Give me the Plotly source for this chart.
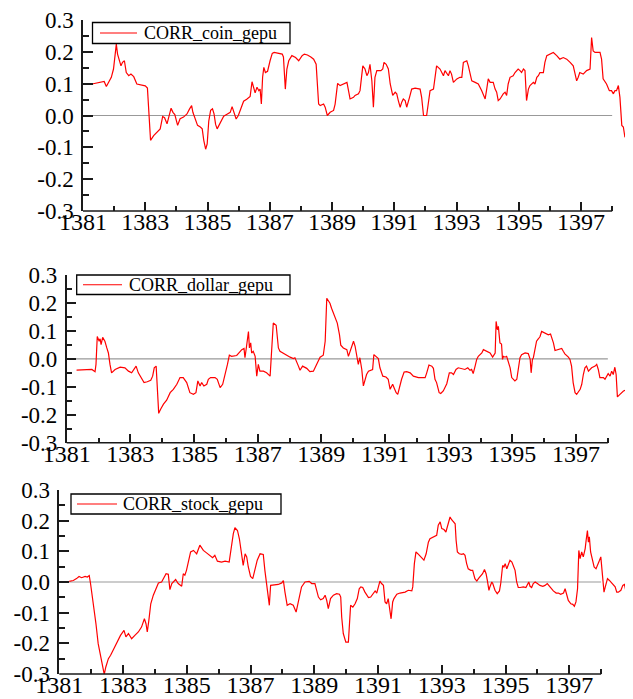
import plotly.graph_objects as go

# ---------------- data ----------------
SERIES_NAMES = ["CORR_coin_gepu", "CORR_dollar_gepu", "CORR_stock_gepu"]

COIN_YEAR = [1381.29,1381.56,1381.68,1381.75,1381.82,1381.91,1381.98,1382.04,1382.07,1382.11,1382.17,1382.22,1382.27,1382.33,1382.39,1382.47,1382.54,1382.63,1382.73,1382.86,1383.00,1383.07,1383.12,1383.17,1383.27,1383.38,1383.48,1383.56,1383.62,1383.70,1383.77,1383.83,1383.89,1383.95,1384.04,1384.12,1384.23,1384.34,1384.42,1384.49,1384.53,1384.61,1384.68,1384.77,1384.83,1384.88,1384.94,1384.99,1385.04,1385.10,1385.16,1385.21,1385.26,1385.31,1385.41,1385.52,1385.64,1385.73,1385.79,1385.85,1385.92,1385.99,1386.07,1386.16,1386.26,1386.37,1386.43,1386.48,1386.53,1386.59,1386.65,1386.69,1386.73,1386.77,1386.81,1386.86,1386.93,1387.01,1387.08,1387.14,1387.25,1387.40,1387.44,1387.50,1387.55,1387.61,1387.71,1387.83,1387.93,1388.04,1388.11,1388.21,1388.32,1388.41,1388.49,1388.57,1388.62,1388.73,1388.78,1388.85,1388.94,1389.05,1389.10,1389.18,1389.26,1389.37,1389.48,1389.53,1389.58,1389.69,1389.74,1389.85,1389.90,1389.99,1390.06,1390.12,1390.17,1390.22,1390.28,1390.33,1390.38,1390.44,1390.57,1390.63,1390.67,1390.74,1390.81,1390.87,1390.95,1391.03,1391.08,1391.13,1391.19,1391.24,1391.29,1391.35,1391.40,1391.49,1391.56,1391.67,1391.83,1391.88,1391.94,1392.04,1392.10,1392.15,1392.26,1392.31,1392.36,1392.47,1392.52,1392.58,1392.63,1392.68,1392.74,1392.79,1392.84,1392.90,1393.01,1393.11,1393.17,1393.22,1393.33,1393.38,1393.49,1393.60,1393.70,1393.81,1393.92,1393.97,1394.02,1394.08,1394.18,1394.24,1394.29,1394.34,1394.40,1394.50,1394.56,1394.61,1394.66,1394.72,1394.82,1394.88,1394.98,1395.04,1395.09,1395.15,1395.20,1395.25,1395.31,1395.36,1395.47,1395.52,1395.58,1395.63,1395.68,1395.79,1395.84,1395.90,1396.00,1396.11,1396.22,1396.32,1396.43,1396.54,1396.65,1396.75,1396.80,1396.86,1396.91,1396.96,1397.07,1397.13,1397.18,1397.29,1397.34,1397.39,1397.45,1397.61,1397.66,1397.71,1397.82,1397.91,1397.98,1398.04,1398.09,1398.14,1398.20,1398.25,1398.31,1398.36,1398.41,1398.52,1398.62]
COIN_CORR = [0.099,0.104,0.107,0.091,0.104,0.120,0.146,0.188,0.224,0.193,0.172,0.156,0.167,0.172,0.135,0.125,0.130,0.122,0.099,0.096,0.093,0.086,0.016,-0.078,-0.063,-0.052,-0.042,-0.003,-0.007,-0.026,0.005,0.023,0.010,0.003,-0.031,-0.010,-0.005,0.005,0.020,0.031,0.010,-0.016,-0.031,-0.036,-0.042,-0.078,-0.106,-0.089,-0.018,0.016,0.021,0.005,-0.028,-0.042,-0.024,-0.002,0.005,0.010,0.028,0.007,-0.011,0.000,0.024,0.045,0.051,0.060,0.106,0.083,0.071,0.089,0.078,0.083,0.036,0.120,0.151,0.135,0.139,0.172,0.195,0.198,0.195,0.193,0.184,0.083,0.146,0.172,0.188,0.182,0.172,0.188,0.193,0.190,0.184,0.177,0.161,0.036,0.031,0.036,0.026,0.000,0.010,0.016,0.036,0.101,0.094,0.099,0.104,0.078,0.052,0.057,0.063,0.068,0.078,0.156,0.146,0.125,0.135,0.161,0.109,0.026,0.120,0.141,0.141,0.146,0.167,0.161,0.146,0.099,0.063,0.073,0.068,0.047,0.026,0.042,0.052,0.047,0.026,0.057,0.083,0.086,0.083,0.057,0.000,0.000,0.047,0.078,0.083,0.120,0.156,0.146,0.135,0.125,0.141,0.135,0.125,0.141,0.130,0.104,0.115,0.120,0.120,0.167,0.172,0.156,0.109,0.104,0.099,0.078,0.052,0.083,0.115,0.104,0.104,0.083,0.073,0.047,0.052,0.068,0.073,0.063,0.099,0.120,0.125,0.135,0.146,0.141,0.135,0.146,0.141,0.047,0.083,0.094,0.104,0.099,0.120,0.125,0.135,0.135,0.167,0.188,0.193,0.198,0.188,0.177,0.182,0.177,0.167,0.156,0.135,0.109,0.120,0.135,0.130,0.135,0.141,0.146,0.245,0.203,0.198,0.198,0.177,0.115,0.099,0.078,0.078,0.068,0.078,0.078,0.094,0.057,-0.031,-0.036,-0.068,-0.052,-0.036]

DOLLAR_YEAR = [1381.31,1381.63,1381.79,1381.89,1381.92,1381.96,1382.02,1382.05,1382.08,1382.13,1382.20,1382.26,1382.31,1382.36,1382.41,1382.52,1382.68,1382.83,1382.94,1383.04,1383.09,1383.18,1383.25,1383.36,1383.43,1383.53,1383.64,1383.70,1383.75,1383.81,1383.85,1383.89,1383.95,1384.04,1384.14,1384.25,1384.35,1384.46,1384.56,1384.66,1384.77,1384.87,1384.98,1385.06,1385.12,1385.19,1385.24,1385.31,1385.40,1385.45,1385.52,1385.66,1385.73,1385.82,1385.90,1385.97,1386.05,1386.11,1386.18,1386.34,1386.42,1386.50,1386.57,1386.60,1386.65,1386.71,1386.74,1386.78,1386.81,1386.86,1386.92,1386.97,1387.02,1387.07,1387.18,1387.28,1387.39,1387.44,1387.49,1387.58,1387.65,1387.70,1387.86,1388.02,1388.12,1388.17,1388.28,1388.33,1388.41,1388.54,1388.64,1388.75,1388.85,1388.91,
               1388.96,1389.06,1389.12,1389.17,1389.27,1389.32,1389.38,1389.46,1389.50,1389.57,1389.61,1389.69,1389.80,1389.85,1389.90,1389.95,1390.01,1390.06,1390.11,1390.16,1390.21,1390.27,1390.32,1390.37,1390.42,1390.48,1390.55,1390.61,1390.65,1390.72,1390.79,1390.84,1390.93,1391.03,1391.10,1391.16,1391.24,1391.29,1391.35,1391.40,1391.47,1391.52,1391.60,1391.68,1391.79,1391.89,1392.05,1392.26,1392.31,1392.38,1392.47,1392.52,1392.57,1392.62,1392.70,1392.75,1392.83,1392.94,1393.02,1393.09,1393.15,1393.23,1393.30,1393.41,1393.51,1393.60,1393.67,1393.72,1393.77,1393.83,1393.88,1393.93,1394.04,1394.09,1394.19,1394.30,1394.38,1394.46,1394.49,1394.53,1394.56,1394.61,1394.66,1394.69,1394.72,1394.77,1394.82,1394.87,1394.93,1394.98,1395.08,1395.14,1395.19,1395.24,1395.29,1395.40,1395.50,1395.56,1395.59,1395.63,1395.66,1395.71,1395.76,1395.82,1395.87,1395.92,1396.03,1396.13,1396.20,1396.29,1396.34,1396.45,1396.55,1396.60,1396.65,1396.76,1396.81,1396.86,1396.91,1396.97,1397.02,1397.13,1397.18,1397.23,1397.28,1397.33,1397.39,1397.49,1397.60,1397.65,1397.70,1397.75,1397.86,1397.91,1397.96,1398.01,1398.07,1398.12,1398.17,1398.22,1398.26,1398.30,1398.38,1398.49,1398.64,1398.75]
DOLLAR_CORR = [-0.040,-0.040,-0.038,-0.046,-0.020,0.080,0.063,0.072,0.051,0.077,0.063,0.039,0.021,-0.020,-0.050,-0.038,-0.030,-0.032,-0.044,-0.050,-0.041,-0.026,-0.050,-0.073,-0.085,-0.082,-0.077,-0.062,-0.032,-0.026,-0.127,-0.195,-0.180,-0.162,-0.148,-0.121,-0.109,-0.091,-0.067,-0.067,-0.085,-0.121,-0.127,-0.121,-0.079,-0.097,-0.085,-0.097,-0.091,-0.073,-0.067,-0.067,-0.073,-0.103,-0.091,-0.062,-0.020,0.013,0.009,0.012,0.021,0.033,0.037,0.004,0.045,0.098,0.039,0.057,0.021,0.027,0.009,-0.062,-0.020,-0.044,-0.044,-0.050,-0.062,0.033,0.128,0.120,0.039,0.027,0.015,0.006,0.001,0.004,-0.026,-0.041,-0.026,-0.034,-0.046,-0.044,-0.020,-0.002,
               0.006,0.013,0.063,0.217,0.199,0.181,0.163,0.134,0.128,0.086,0.049,0.039,0.033,0.009,0.027,0.045,0.063,0.045,0.015,-0.020,0.004,-0.038,-0.097,-0.073,-0.056,-0.044,-0.040,-0.038,0.015,0.009,0.001,-0.032,-0.062,-0.065,-0.073,-0.109,-0.091,-0.105,-0.121,-0.127,-0.091,-0.073,-0.047,-0.046,-0.050,-0.062,-0.067,-0.067,-0.050,-0.022,-0.026,-0.034,-0.073,-0.085,-0.121,-0.124,-0.115,-0.089,-0.050,-0.050,-0.056,-0.038,-0.032,-0.034,-0.038,-0.032,-0.041,-0.038,-0.053,-0.026,-0.002,0.009,0.021,0.033,0.027,0.021,0.006,0.021,0.134,0.104,0.116,0.057,0.053,-0.002,0.009,0.006,0.009,-0.008,-0.032,-0.067,-0.079,-0.073,-0.038,0.004,0.015,0.021,0.019,-0.002,-0.050,-0.002,0.004,0.033,0.063,0.072,0.080,0.098,0.092,0.086,0.089,0.057,0.030,0.033,0.037,0.027,0.018,0.006,-0.002,-0.026,-0.085,-0.121,-0.127,-0.109,-0.091,-0.056,-0.032,-0.026,-0.044,-0.032,-0.026,-0.020,-0.038,-0.067,-0.067,-0.073,-0.062,-0.053,-0.062,-0.044,-0.056,-0.030,-0.056,-0.136,-0.127,-0.115,-0.109,-0.091]

STOCK_YEAR = [1381.31,1381.44,1381.54,1381.62,1381.70,1381.81,1381.88,1381.94,1381.98,1382.07,1382.15,1382.22,1382.30,1382.36,1382.41,1382.46,1382.54,1382.61,1382.69,1382.80,1382.92,1383.03,1383.09,1383.17,1383.27,1383.37,1383.48,1383.58,1383.67,1383.72,1383.76,1383.81,1383.87,1383.95,1384.03,1384.11,1384.21,1384.29,1384.35,1384.42,1384.47,1384.53,1384.58,1384.65,1384.73,1384.84,1384.89,1384.94,1384.99,1385.05,1385.12,1385.21,1385.31,1385.41,1385.52,1385.62,1385.73,1385.81,1385.88,1385.96,1386.09,1386.20,1386.33,1386.39,1386.46,1386.51,1386.59,1386.65,1386.72,1386.77,1386.83,1386.88,1386.93,1387.00,1387.07,1387.14,1387.21,1387.30,1387.40,1387.45,1387.51,1387.56,1387.59,1387.63,1387.72,1387.87,1387.98,1388.03,1388.08,1388.15,1388.24,1388.34,1388.43,1388.50,1388.60,1388.71,1388.84,1388.92,
              1389.02,1389.13,1389.20,1389.28,1389.34,1389.39,1389.44,1389.51,1389.60,1389.70,1389.79,1389.83,1389.86,1389.91,1389.99,1390.07,1390.10,1390.14,1390.21,1390.28,1390.35,1390.41,1390.46,1390.52,1390.59,1390.64,1390.70,1390.77,1390.85,1390.91,1390.96,1391.01,1391.06,1391.11,1391.17,1391.22,1391.27,1391.32,1391.38,1391.41,1391.46,1391.50,1391.59,1391.69,1391.85,1391.95,1392.06,1392.09,1392.14,1392.19,1392.27,1392.37,1392.44,1392.51,1392.58,1392.63,1392.74,1392.84,1392.89,1392.95,1393.00,1393.07,1393.13,1393.19,1393.26,1393.31,1393.36,1393.42,1393.45,1393.49,1393.55,1393.63,1393.68,1393.73,1393.78,1393.83,1393.91,1393.97,1394.04,1394.10,1394.15,1394.22,1394.28,1394.34,1394.39,1394.43,1394.48,1394.51,1394.57,1394.60,1394.67,1394.74,1394.81,1394.85,1394.91,1394.95,1394.99,1395.04,1395.09,1395.14,1395.20,1395.25,1395.30,1395.35,1395.40,1395.46,1395.56,1395.64,1395.69,1395.73,1395.77,1395.82,1395.87,1395.93,1396.00,1396.08,1396.17,1396.24,1396.31,1396.40,1396.50,1396.59,1396.66,1396.73,1396.82,1396.87,1396.92,1396.97,1397.05,1397.11,1397.16,1397.21,1397.26,1397.30,1397.34,1397.39,1397.44,1397.50,1397.53,1397.57,1397.60,1397.63,1397.67,1397.73,1397.78,1397.84,1397.89,1397.95,1397.99,1398.02,1398.05,1398.09,1398.13,1398.20,1398.26,1398.33,1398.44,1398.49,1398.54,1398.62,1398.68,1398.73,1398.78,1398.83,1398.91,1398.96]
STOCK_CORR = [0.002,0.005,0.011,0.018,0.014,0.018,0.016,0.021,-0.005,-0.071,-0.136,-0.201,-0.245,-0.277,-0.301,-0.277,-0.250,-0.239,-0.223,-0.201,-0.174,-0.158,-0.179,-0.168,-0.185,-0.174,-0.163,-0.147,-0.120,-0.136,-0.163,-0.125,-0.071,-0.043,-0.022,-0.003,0.000,0.018,0.027,0.025,-0.025,-0.005,0.000,0.008,-0.005,-0.014,0.027,0.022,0.038,0.065,0.098,0.103,0.092,0.120,0.103,0.095,0.087,0.079,0.087,0.068,0.065,0.068,0.065,0.114,0.158,0.177,0.168,0.141,0.092,0.054,0.092,0.082,0.049,0.018,0.011,0.038,0.071,0.092,0.090,0.038,-0.011,-0.038,-0.076,-0.011,-0.009,-0.008,-0.003,0.005,-0.033,-0.076,-0.071,-0.076,-0.098,-0.065,-0.016,0.000,0.002,-0.005,
              -0.005,-0.049,-0.058,-0.054,-0.043,-0.060,-0.087,-0.054,-0.043,-0.038,-0.040,-0.049,-0.114,-0.168,-0.196,-0.196,-0.136,-0.076,-0.082,-0.071,-0.054,-0.022,-0.016,-0.018,-0.033,-0.043,-0.051,-0.049,-0.038,-0.029,-0.036,-0.011,0.003,-0.005,-0.011,-0.065,-0.071,-0.054,-0.092,-0.120,-0.065,-0.054,-0.040,-0.036,-0.033,-0.027,-0.029,-0.016,0.060,0.098,0.090,0.079,0.071,0.092,0.130,0.141,0.147,0.152,0.185,0.196,0.174,0.171,0.163,0.185,0.212,0.203,0.196,0.190,0.136,0.098,0.092,0.090,0.092,0.087,0.060,0.043,0.038,0.038,0.011,0.003,0.011,0.018,0.027,0.041,0.027,0.005,-0.027,-0.016,0.000,-0.005,-0.027,-0.038,-0.029,-0.005,0.054,0.049,0.060,0.043,0.060,0.071,0.065,0.049,0.038,0.000,-0.018,-0.018,-0.016,-0.018,-0.005,0.000,-0.014,-0.018,-0.005,0.000,-0.005,-0.011,-0.014,-0.011,-0.005,-0.016,-0.029,-0.036,-0.036,-0.040,-0.036,-0.022,-0.043,-0.060,-0.071,-0.073,-0.079,-0.065,-0.022,0.103,0.076,0.098,0.082,0.109,0.136,0.168,0.130,0.147,0.098,0.071,0.049,0.043,0.054,0.071,0.082,0.049,0.000,-0.033,-0.016,0.011,0.005,-0.003,-0.016,-0.033,-0.033,-0.027,-0.011,-0.008,-0.027,-0.054,-0.065,-0.068]

X_TICK_VALUES = [1381, 1383, 1385, 1387, 1389, 1391, 1393, 1395, 1397]
X_TICK_LABELS = ["1381", "1383", "1385", "1387", "1389", "1391", "1393", "1395", "1397"]
X_MINOR_VALUES = [1382, 1384, 1386, 1388, 1390, 1392, 1394, 1396, 1398]
Y_TICK_VALUES = [-0.3, -0.2, -0.1, 0.0, 0.1, 0.2, 0.3]
Y_TICK_LABELS = ["-0.3", "-0.2", "-0.1", "0.0", "0.1", "0.2", "0.3"]
AXIS_START, AXIS_END = 1381, 1398
Y_MIN, Y_MAX = -0.3, 0.3

SERIES_X = [COIN_YEAR, DOLLAR_YEAR, STOCK_YEAR]
SERIES_Y = [COIN_CORR, DOLLAR_CORR, STOCK_CORR]
for xs, ys in zip(SERIES_X, SERIES_Y):
    assert len(xs) == len(ys), (len(xs), len(ys))

# ---------------- layout (pixel geometry of the 633x699 window) ----------------
OFF = 8                      # default <body> margin of the page
W, H = 633 - OFF, 699 - OFF  # figure size so it ends exactly at the window edge


def px(xp):
    return (xp - OFF) / W


def py(yp):
    return 1 - (yp - OFF) / H


PANELS = [
    dict(left=83.0, top=20.0, bottom=211.0, xmax=1398.67,
         box=(92.5, 22.5, 290, 43.5), sample=(100, 137), text_x=142),
    dict(left=66.7, top=275.0, bottom=442.7, xmax=1398.79,
         box=(76.7, 275, 290, 294.5), sample=(83, 122), text_x=127),
    dict(left=59.3, top=490.0, bottom=674.0, xmax=1399.0,
         box=(71, 494, 281, 514), sample=(77, 117), text_x=121),
]
SERIF = "Liberation Serif"
AXIS_COLOR = "#1a1a1a"
RED = "#ff0000"

fig = go.Figure()
layout = dict(
    width=W, height=H, margin=dict(l=0, r=0, t=0, b=0, pad=0),
    paper_bgcolor="white", plot_bgcolor="white", showlegend=False,
    font=dict(family=SERIF, color="black"),
)
shapes, annotations = [], []
for i, p in enumerate(PANELS):
    n = "" if i == 0 else str(i + 1)
    xa, ya = "x" + n, "y" + n
    fig.add_trace(go.Scatter(
        x=SERIES_X[i], y=SERIES_Y[i], mode="lines", name=SERIES_NAMES[i],
        line=dict(color=RED, width=1.2), xaxis=xa, yaxis=ya,
    ))
    layout["xaxis" + n] = dict(
        domain=[px(p["left"]), 1.0], range=[AXIS_START, p["xmax"]], anchor=ya,
        showgrid=False, zeroline=False, showline=False, automargin=False,
        tickmode="array", tickvals=X_TICK_VALUES, ticktext=X_TICK_LABELS,
        ticks="inside", ticklen=9, tickwidth=1.5, tickcolor=AXIS_COLOR,
        tickfont=dict(family=SERIF, size=24, color="black"), ticklabelstandoff=-6,
        ticklabeloverflow="allow",
        minor=dict(tickmode="array", tickvals=X_MINOR_VALUES, ticks="inside",
                   ticklen=5, tickwidth=1.5, tickcolor=AXIS_COLOR, showgrid=False),
    )
    layout["yaxis" + n] = dict(
        domain=[py(p["bottom"]), py(p["top"])], range=[Y_MIN, Y_MAX], anchor=xa,
        showgrid=False, zeroline=False, showline=True, linecolor=AXIS_COLOR, linewidth=1.5,
        automargin=False, tickmode="array", tickvals=Y_TICK_VALUES, ticktext=Y_TICK_LABELS,
        ticks="inside", ticklen=10, tickwidth=1.5, tickcolor=AXIS_COLOR,
        tickfont=dict(family=SERIF, size=23, color="black"), ticklabelstandoff=3,
        ticklabeloverflow="allow",
        minor=dict(dtick=0.05, tick0=0, ticks="inside", ticklen=6, tickwidth=1.5,
                   tickcolor=AXIS_COLOR, showgrid=False),
    )
    # x axis line ends at the last tick (1398) while the series runs on
    frac_end = (AXIS_END - AXIS_START) / (p["xmax"] - AXIS_START)
    shapes.append(dict(type="line", xref=xa + " domain", yref=ya + " domain",
                       x0=0, x1=frac_end, y0=0, y1=0,
                       line=dict(color=AXIS_COLOR, width=1.5), layer="above"))
    # zero reference line
    shapes.append(dict(type="line", xref=xa, yref=ya, x0=AXIS_START, x1=AXIS_END,
                       y0=0, y1=0, line=dict(color="#999999", width=1.2), layer="below"))
    # legend box
    bx0, by0, bx1, by1 = p["box"]
    shapes.append(dict(type="rect", xref="paper", yref="paper",
                       x0=px(bx0), x1=px(bx1), y0=py(by1), y1=py(by0),
                       fillcolor="white", line=dict(color="black", width=1.3), layer="above"))
    ymid = py((by0 + by1) / 2)
    shapes.append(dict(type="line", xref="paper", yref="paper",
                       x0=px(p["sample"][0]), x1=px(p["sample"][1]), y0=ymid, y1=ymid,
                       line=dict(color=RED, width=1.2), layer="above"))
    annotations.append(dict(text=SERIES_NAMES[i], xref="paper", yref="paper",
                            x=px(p["text_x"]), y=ymid, xanchor="left", yanchor="middle",
                            showarrow=False, font=dict(family=SERIF, size=18, color="black")))
layout["shapes"] = shapes
layout["annotations"] = annotations
fig.update_layout(**layout)
fig.write_html("out.html")
